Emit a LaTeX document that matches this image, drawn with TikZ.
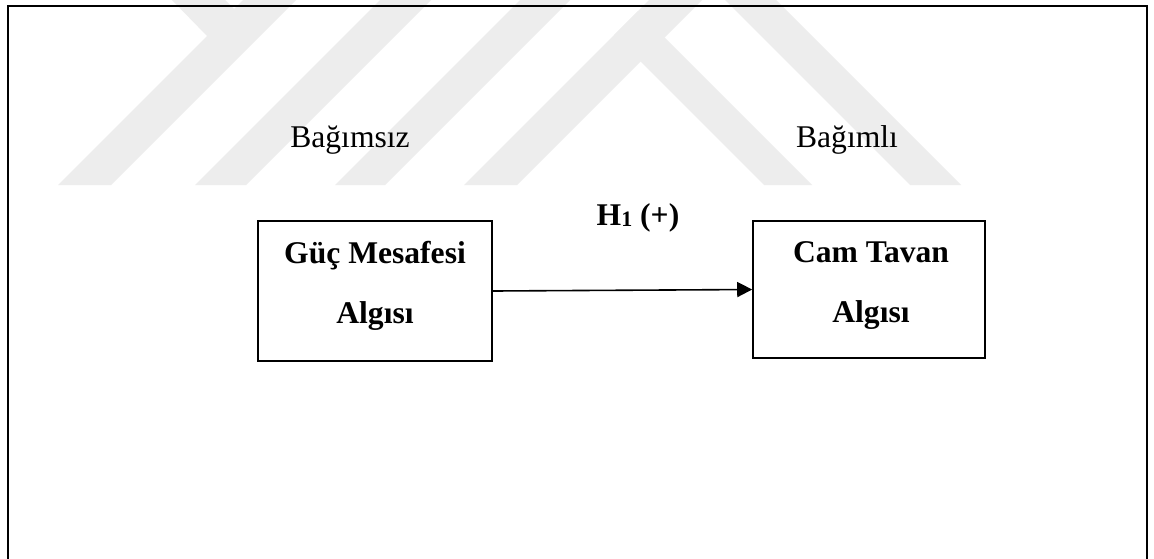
\documentclass[tikz,border=0pt]{standalone}
\usepackage{fontspec}
\setmainfont{Liberation Serif}
\usetikzlibrary{arrows.meta}
\definecolor{wm}{HTML}{EDEDED}
\begin{document}
\begin{tikzpicture}[x=0.5pt,y=-0.5pt,
  stripe/.style={fill=wm, draw=none},
  box/.style={draw, line width=0.8pt, inner sep=0pt},
  lbl/.style={anchor=base, inner sep=0pt, font=\fontsize{15.8pt}{19pt}\selectfont},
  blbl/.style={anchor=base, inner sep=0pt, font=\fontsize{15.8pt}{19pt}\selectfont\bfseries},
  link/.style={line width=0.8pt, -{Triangle[length=7.5pt,width=7.5pt]}}]
\clip (0,0) rectangle (1154,558);
\fill[white] (0,0) rectangle (1154,558);
% watermark
\fill[stripe] (58,185) -- (111,185) -- (296,0) -- (243,0) -- cycle;
\fill[stripe] (172,0) -- (225,0) -- (255,30) -- (207,36) -- cycle;
\fill[stripe] (195,185) -- (246,185) -- (431,0) -- (380,0) -- cycle;
\fill[stripe] (335,185) -- (385,185) -- (570,0) -- (520,0) -- cycle;
\fill[stripe] (464,185) -- (517,185) -- (702,0) -- (649,0) -- cycle;
\fill[stripe] (764,185) -- (812,185) -- (638,11) -- (614,35) -- cycle;
\fill[stripe] (910,185) -- (961,185) -- (776,0) -- (725,0) -- cycle;
% frame
\draw[line width=1pt] (8,600) -- (8,6) -- (1147,6) -- (1147,600);
% boxes
\node[box, minimum width=117pt, minimum height=70pt] (gm) at (375,291) {};
\node[box, minimum width=116pt, minimum height=68.5pt] (ct) at (869,289.5) {};
\node[blbl] (gm1) at (375,263) {Güç Mesafesi};
\node[blbl] (gm2) at (375,323) {Algısı};
\node[blbl] (ct1) at (871,262) {Cam Tavan};
\node[blbl] (ct2) at (871,322) {Algısı};
\node[lbl] (bgs) at (350,147) {Bağımsız};
\node[lbl] (bgl) at (847,147) {Bağımlı};
\node[blbl] (h1) at (638,225) {H{\fontsize{11pt}{12pt}\selectfont\raisebox{-0.5pt}{1}} (+)};
\draw[link] (gm.east) -- (ct.west);
\end{tikzpicture}
\end{document}
